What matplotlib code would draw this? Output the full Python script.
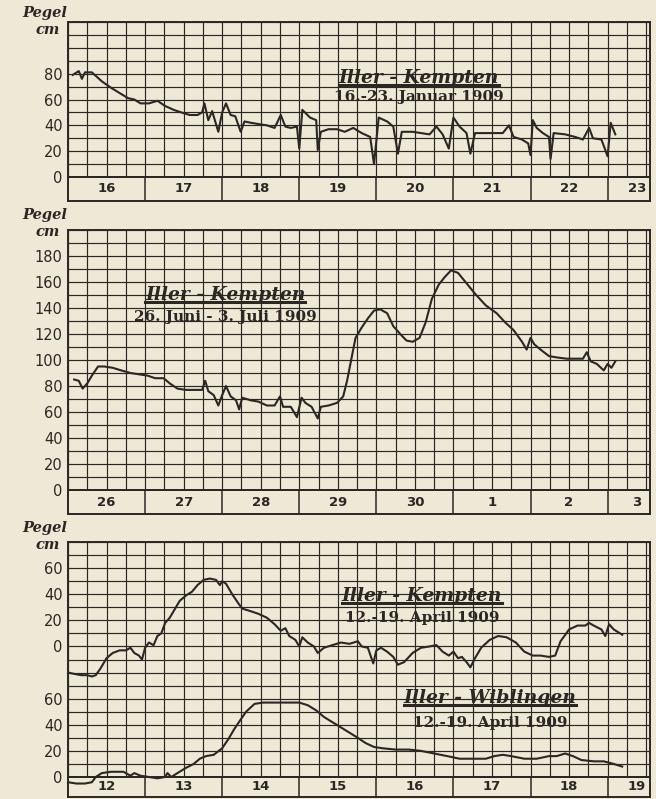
import numpy as np
import matplotlib.pyplot as plt
from matplotlib.ticker import MultipleLocator, FixedLocator
from matplotlib.lines import Line2D

INK = "#2b2723"
PAPER = "#eee8d6"

# Iller-Kempten, 16.-23. Januar 1909 (day of January, cm)
jan_t = [16.06, 16.14, 16.18, 16.22, 16.31, 16.44, 16.56, 16.67, 16.78, 16.86,
         16.94, 17.05, 17.16, 17.26, 17.37, 17.47, 17.58, 17.68, 17.74, 17.77,
         17.82, 17.87, 17.95, 18.0, 18.05, 18.11, 18.17, 18.24, 18.29, 18.37,
         18.47, 18.58, 18.68, 18.76, 18.82, 18.89, 18.97, 19.0, 19.04, 19.14,
         19.22, 19.24, 19.28, 19.38, 19.49, 19.59, 19.70, 19.81, 19.92, 19.97,
         20.03, 20.14, 20.22, 20.28, 20.33, 20.47, 20.58, 20.69, 20.78, 20.86,
         20.94, 21.0, 21.08, 21.17, 21.22, 21.28, 21.42, 21.53, 21.64, 21.72,
         21.78, 21.89, 21.97, 22.0, 22.03, 22.08, 22.16, 22.24, 22.26, 22.30,
         22.45, 22.58, 22.68, 22.76, 22.81, 22.92, 23.0, 23.04, 23.10]
jan_cm = [79, 82, 76, 81, 81, 74, 69, 65, 61, 60,
          57, 57, 59, 55, 52, 50, 48, 48, 50, 57,
          44, 51, 35, 50, 57, 48, 47, 35, 43, 42,
          41, 40, 38, 48, 39, 38, 39, 22, 52, 46,
          44, 21, 35, 37, 37, 35, 38, 34, 31, 10,
          46, 43, 39, 18, 35, 35, 34, 33, 39, 33,
          22, 46, 39, 34, 18, 34, 34, 34, 34, 40,
          31, 29, 26, 17, 44, 38, 34, 31, 14, 34,
          33, 31, 29, 38, 30, 29, 16, 42, 33]
jan_days = ["16", "17", "18", "19", "20", "21", "22", "23"]

# Iller-Kempten, 26. Juni - 3. Juli 1909 (days counted on from 26 June: 31 = 1 July)
jun_t = [26.08, 26.14, 26.19, 26.25, 26.31, 26.39, 26.47, 26.58, 26.69, 26.81,
         26.92, 27.03, 27.13, 27.24, 27.32, 27.42, 27.53, 27.66, 27.74, 27.78,
         27.82, 27.89, 27.95, 28.0, 28.05, 28.11, 28.18, 28.22, 28.26, 28.37,
         28.47, 28.58, 28.68, 28.75, 28.79, 28.89, 28.97, 29.03, 29.08, 29.16,
         29.24, 29.28, 29.38, 29.49, 29.57, 29.62, 29.68, 29.73, 29.81, 29.89,
         29.97, 30.05, 30.14, 30.22, 30.31, 30.39, 30.47, 30.56, 30.64, 30.72,
         30.81, 30.89, 30.97, 31.06, 31.17, 31.28, 31.42, 31.56, 31.67, 31.78,
         31.89, 31.95, 32.0, 32.05, 32.13, 32.24, 32.34, 32.47, 32.61, 32.68,
         32.73, 32.78, 32.86, 32.95, 33.0, 33.05, 33.1]
jun_cm = [85, 84, 78, 82, 88, 95, 95, 94, 92, 90,
          89, 88, 86, 86, 82, 78, 77, 77, 77, 84,
          76, 73, 65, 73, 80, 72, 69, 62, 71, 69,
          68, 65, 65, 72, 64, 64, 56, 71, 67, 64,
          55, 64, 65, 67, 72, 84, 102, 117, 125, 132,
          138, 139, 136, 126, 120, 115, 114, 117, 129, 147,
          158, 164, 169, 167, 159, 151, 142, 136, 129, 123,
          114, 108, 117, 112, 108, 103, 102, 101, 101, 101,
          106, 99, 97, 92, 97, 94, 99]
jun_days = ["26", "27", "28", "29", "30", "1", "2", "3"]

# 12.-19. April 1909 (day of April, cm)
kem_t = [12.0, 12.08, 12.17, 12.25, 12.31, 12.36, 12.42, 12.5, 12.58, 12.67,
         12.75, 12.81, 12.86, 12.92, 12.96, 13.0, 13.05, 13.11, 13.16, 13.21,
         13.26, 13.32, 13.39, 13.45, 13.53, 13.61, 13.68, 13.76, 13.84, 13.92,
         13.97, 14.0, 14.05, 14.13, 14.21, 14.26, 14.37, 14.47, 14.58, 14.68,
         14.76, 14.82, 14.87, 14.95, 15.0, 15.04, 15.11, 15.19, 15.24, 15.32,
         15.43, 15.54, 15.65, 15.76, 15.81, 15.89, 15.96, 16.0, 16.06, 16.14,
         16.22, 16.28, 16.36, 16.47, 16.58, 16.69, 16.78, 16.86, 16.94, 17.0,
         17.06, 17.11, 17.17, 17.22, 17.28, 17.36, 17.47, 17.58, 17.69, 17.81,
         17.92, 18.03, 18.13, 18.24, 18.32, 18.39, 18.5, 18.61, 18.71, 18.76,
         18.82, 18.92, 18.97, 19.02, 19.08, 19.19]
kem_cm = [-20, -21, -22, -22, -23, -22, -17, -9, -5, -3,
          -3, -1, -5, -7, -10, -1, 3, 1, 8, 10,
          18, 22, 29, 35, 39, 42, 47, 51, 52, 51,
          47, 50, 48, 40, 33, 29, 27, 25, 22, 17,
          12, 14, 8, 5, 0, 7, 3, 0, -5, -1,
          1, 3, 2, 4, 0, -1, -13, -3, -1, -4,
          -8, -14, -12, -5, -1, 0, 1, -4, -7, -4,
          -9, -8, -12, -16, -9, -1, 5, 8, 7, 3,
          -4, -7, -7, -8, -7, 4, 13, 16, 16, 18,
          16, 13, 8, 17, 13, 9]

wib_t = [12.0, 12.11, 12.22, 12.31, 12.36, 12.44, 12.56, 12.72, 12.81, 12.86,
         12.94, 13.05, 13.16, 13.26, 13.29, 13.34, 13.42, 13.53, 13.63, 13.71,
         13.79, 13.89, 14.0, 14.08, 14.16, 14.24, 14.31, 14.42, 14.53, 14.68,
         14.84, 15.0, 15.11, 15.22, 15.32, 15.43, 15.54, 15.65, 15.76, 15.86,
         15.97, 16.08, 16.25, 16.42, 16.58, 16.75, 16.92, 17.08, 17.25, 17.42,
         17.53, 17.64, 17.75, 17.92, 18.08, 18.24, 18.34, 18.45, 18.55, 18.66,
         18.82, 18.95, 19.08, 19.19]
wib_cm = [-4, -5, -5, -4, 0, 3, 4, 4, 1, 3,
          1, 0, -1, 0, 3, 0, 3, 7, 10, 14,
          16, 17, 22, 29, 37, 44, 50, 56, 57, 57,
          57, 57, 55, 51, 46, 42, 38, 34, 30, 26,
          23, 22, 21, 21, 20, 18, 16, 14, 14, 14,
          16, 17, 16, 14, 14, 16, 16, 18, 16, 13,
          12, 12, 10, 8]
apr_days = ["12", "13", "14", "15", "16", "17", "18", "19"]

plt.rcParams["font.family"] = ["DejaVu Sans"]

fig = plt.figure(figsize=(6.56, 7.99), dpi=100, facecolor=PAPER)
L = 68 / 656
W = 582 / 656
SPAN = 7.55


def fy(px):
    return 1 - px / 799


def panel(top, zero, bottom, x0, ymax, yticks, days):
    ax = fig.add_axes([L, fy(zero), W, fy(top) - fy(zero)])
    st = fig.add_axes([L, fy(bottom), W, fy(zero) - fy(bottom)])
    for a in (ax, st):
        a.set_facecolor("none")
        a.set_xlim(x0, x0 + SPAN)
        a.xaxis.set_major_locator(MultipleLocator(1))
        a.tick_params(which="both", length=0, labelbottom=False)
        for s in a.spines.values():
            s.set_color(INK)
            s.set_linewidth(1.4)
    ax.xaxis.set_minor_locator(MultipleLocator(0.25))
    ax.set_ylim(0, ymax)
    ax.yaxis.set_major_locator(FixedLocator(yticks))
    ax.yaxis.set_minor_locator(MultipleLocator(10))
    ax.grid(which="both", color=INK, lw=0.85)
    ax.tick_params(axis="y", pad=4, labelsize=10.5, labelcolor=INK)
    st.set_ylim(0, 1)
    st.set_yticks([])
    st.grid(axis="x", which="major", color=INK, lw=1.1)
    for i, d in enumerate(days):
        xpos = x0 + i + 0.5 if i < len(days) - 1 else x0 + i + 0.38
        st.text(xpos, 0.5, d, ha="center", va="center", fontsize=9.5,
                fontweight="bold", color=INK)
    return ax


def title(ax, x, y, head, sub, dy=0.115):
    t = ax.text(x, y, head, transform=ax.transAxes, ha="center", va="center",
                fontsize=13.5, fontweight="bold", fontstyle="italic",
                family="DejaVu Serif", color=INK)
    ax.text(x, y - dy, sub, transform=ax.transAxes, ha="center", va="center",
            fontsize=11, fontweight="bold", family="DejaVu Serif", color=INK)
    return t


def pegel(px_y):
    fig.text(22 / 656, fy(px_y), "Pegel", ha="left", va="center",
             fontsize=10.5, fontweight="bold", fontstyle="italic",
             family="DejaVu Serif", color=INK)
    fig.text(36 / 656, fy(px_y + 17), "cm", ha="left", va="center",
             fontsize=10.5, fontweight="bold", fontstyle="italic",
             family="DejaVu Serif", color=INK)


line_kw = dict(color=INK, lw=1.5, clip_on=False, solid_joinstyle="round")

# Panel 1
ax1 = panel(22, 177, 201, 16, 120, [0, 20, 40, 60, 80], jan_days)
ax1.plot(jan_t, jan_cm, **line_kw)
heads = [title(ax1, 0.603, 0.64, "Iller - Kempten", "16.-23. Januar 1909", dy=0.125)]
pegel(13)

# Panel 2
ax2 = panel(230, 490, 514, 26, 200, list(range(0, 181, 20)), jun_days)
ax2.plot(jun_t, jun_cm, **line_kw)
heads.append(title(ax2, 0.27, 0.75, "Iller - Kempten", "26. Juni - 3. Juli 1909", dy=0.085))
pegel(215)

# Panel 3: Wiblingen on the lower scale, Kempten on a shifted scale
ax3 = panel(542, 777, 797, 12, 180, [0, 20, 40, 60], apr_days)
ax3.plot(wib_t, wib_cm, **line_kw)
ax3k = ax3.twinx()
ax3k.set_ylim(-100, 80)
ax3k.set_yticks([0, 20, 40, 60])
ax3k.yaxis.tick_left()
ax3k.tick_params(length=0, pad=4, labelsize=10.5, labelcolor=INK)
for s in ax3k.spines.values():
    s.set_visible(False)
ax3k.plot(kem_t, kem_cm, **line_kw)
heads.append(title(ax3k, 0.608, 0.77, "Iller - Kempten", "12.-19. April 1909", dy=0.095))
heads.append(title(ax3k, 0.725, 0.335, "Iller - Wiblingen", "12.-19. April 1909", dy=0.105))
pegel(528)

# underline the headings just under the baseline
fig.canvas.draw()
inv = fig.transFigure.inverted()
for t in heads:
    bb = t.get_window_extent()
    (x0, y0), (x1, _) = inv.transform([(bb.x0, bb.y0 + 2), (bb.x1, bb.y0 + 2)])
    fig.add_artist(Line2D([x0, x1], [y0, y0], color=INK, lw=2.2))

fig.savefig("out.png", dpi=100, facecolor=PAPER)
